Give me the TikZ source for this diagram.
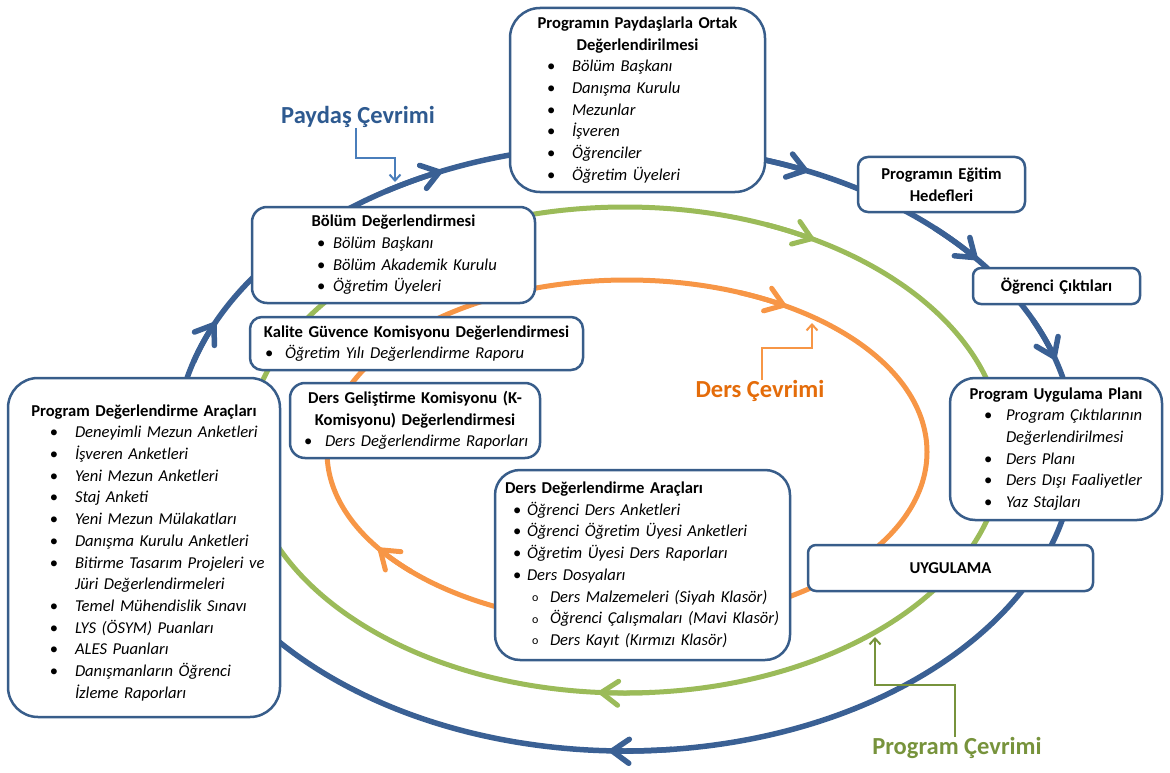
\documentclass[tikz,border=0pt]{standalone}
\usepackage{fontspec}
\setmainfont{Carlito}
\usetikzlibrary{arrows.meta}
\definecolor{bl}{HTML}{385D8A}
\definecolor{arcb}{HTML}{3A6094}
\definecolor{grn}{HTML}{9BBB59}
\definecolor{org}{HTML}{F79646}
\definecolor{tblue}{HTML}{2E5A90}
\definecolor{cblue}{HTML}{4A7EBB}
\definecolor{tgreen}{HTML}{77933C}
\definecolor{torg}{HTML}{E46C0A}
\newcommand\bitem[3]{\makebox[\hsize][l]{\hspace*{#1pt}\makebox[#2pt][l]{\textbullet}\textit{#3}}}
\newcommand\bcont[2]{\makebox[\hsize][l]{\hspace*{#1pt}\textit{#2}}}
\newcommand\ltitle[2]{\makebox[\hsize][l]{\hspace*{#1pt}\textbf{#2}}}
\newcommand\oitem[3]{\makebox[\hsize][l]{\hspace*{#1pt}\makebox[#2pt][l]{\raisebox{0.5pt}{\fontsize{12}{12}\selectfont o}}\textit{#3}}}
\begin{document}
\begin{tikzpicture}[x=1pt,y=-1pt,
  rbox/.style={draw=bl, line width=2.5pt, fill=white, rounded corners=#1,
    inner sep=0pt, align=center, font=\fontsize{16.6}{21.7}\selectfont},
  rbox/.default=10pt,
  tipb/.style={-{Straight Barb[length=17pt,width=24pt,round]}},
  conn/.style={line width=2pt, -{Straight Barb[length=6pt,width=11pt]}},
  cyc/.style={font=\fontsize{24.5}{28}\selectfont\bfseries, inner sep=0pt}
]
\useasboundingbox (0,0) rectangle (1170,773);
% cycles
\draw[arcb, line width=5.5pt] (625,448) ellipse[x radius=450, y radius=303];
\draw[grn, line width=5pt] (625,450) ellipse[x radius=378, y radius=243];
\draw[org, line width=5pt] (627,452) ellipse[x radius=300, y radius=172];
% arrowheads on cycles
\foreach \t in {204.5,246,294,321.5,343,92}
  \draw[arcb, line width=5.5pt, tipb] (625,448) ++(\t-8:450 and 303) arc[start angle=\t-8, end angle=\t, x radius=450, y radius=303];
\foreach \t in {300,94}
  \draw[grn, line width=5pt, tipb] (625,450) ++(\t-8:378 and 243) arc[start angle=\t-8, end angle=\t, x radius=378, y radius=243];
\foreach \t in {302,146}
  \draw[org, line width=5pt, tipb] (627,452) ++(\t-10:300 and 172) arc[start angle=\t-10, end angle=\t, x radius=300, y radius=172];
% boxes
\node[rbox=30pt, minimum width=255, minimum height=184, text width=255] (top) at (637.5,100)
 {\textbf{Programın Paydaşlarla Ortak}\\\textbf{Değerlendirilmesi}\\
  \bitem{37}{25}{Bölüm Başkanı}\\\bitem{37}{25}{Danışma Kurulu}\\\bitem{37}{25}{Mezunlar}\\
  \bitem{37}{25}{İşveren}\\\bitem{37}{25}{Öğrenciler}\\\bitem{37}{25}{Öğretim Üyeleri}};
\node[rbox=10pt, minimum width=167, minimum height=55, text width=167] (hedef) at (941.5,184.5)
 {\textbf{Programın Eğitim}\\\textbf{Hedefleri}};
\node[rbox=8pt, minimum width=167, minimum height=36, text width=167] (cikti) at (1056.5,286)
 {\textbf{Öğrenci Çıktıları}};
\node[rbox=25pt, minimum width=212, minimum height=142, text width=212] (plan) at (1056,449)
 {\textbf{Program Uygulama Planı}\\
  \bitem{34}{22}{Program Çıktılarının}\\\bcont{56}{Değerlendirilmesi}\\
  \bitem{34}{22}{Ders Planı}\\\bitem{34}{22}{Ders Dışı Faaliyetler}\\\bitem{34}{22}{Yaz Stajları}};
\node[rbox=8pt, minimum width=285, minimum height=46, text width=285] (uyg) at (950.5,568)
 {\textbf{UYGULAMA}};
\node[rbox=25pt, minimum width=295, minimum height=190, text width=295] (dda) at (642.5,565)
 {\ltitle{10}{Ders Değerlendirme Araçları}\\
  \bitem{18}{14}{Öğrenci Ders Anketleri}\\\bitem{18}{14}{Öğrenci Öğretim Üyesi Anketleri}\\
  \bitem{18}{14}{Öğretim Üyesi Ders Raporları}\\\bitem{18}{14}{Ders Dosyaları}\\
  \oitem{37}{18}{Ders Malzemeleri (Siyah Klasör)}\\\oitem{37}{18}{Öğrenci Çalışmaları (Mavi Klasör)}\\
  \oitem{37}{18}{Ders Kayıt (Kırmızı Klasör)}};
\node[rbox=15pt, minimum width=250, minimum height=75, text width=250] (dgk) at (415,420.5)
 {\textbf{Ders Geliştirme Komisyonu (K-}\\\textbf{Komisyonu) Değerlendirmesi}\\
  \bitem{14}{21}{Ders Değerlendirme Raporları}};
\node[rbox=12pt, minimum width=333, minimum height=53, text width=333] (kalite) at (416.5,343.5)
 {\textbf{Kalite Güvence Komisyonu Değerlendirmesi}\\
  \bitem{15}{20}{Öğretim Yılı Değerlendirme Raporu}};
\node[rbox=15pt, minimum width=283, minimum height=96, text width=283] (bolum) at (393.5,255)
 {\textbf{Bölüm Değerlendirmesi}\\
  \bitem{65}{16}{Bölüm Başkanı}\\\bitem{65}{16}{Bölüm Akademik Kurulu}\\\bitem{65}{16}{Öğretim Üyeleri}};
\node[rbox=30pt, minimum width=272, minimum height=339, text width=272] (pda) at (144,547.5)
 {\rule{0pt}{22pt}\textbf{Program Değerlendirme Araçları}\\
  \bitem{42}{25}{Deneyimli Mezun Anketleri}\\\bitem{42}{25}{İşveren Anketleri}\\
  \bitem{42}{25}{Yeni Mezun Anketleri}\\\bitem{42}{25}{Staj Anketi}\\
  \bitem{42}{25}{Yeni Mezun Mülakatları}\\\bitem{42}{25}{Danışma Kurulu Anketleri}\\
  \bitem{42}{25}{Bitirme Tasarım Projeleri ve}\\\bcont{67}{Jüri Değerlendirmeleri}\\
  \bitem{42}{25}{Temel Mühendislik Sınavı}\\\bitem{42}{25}{LYS (ÖSYM) Puanları}\\
  \bitem{42}{25}{ALES Puanları}\\\bitem{42}{25}{Danışmanların Öğrenci}\\\bcont{67}{İzleme Raporları}};
% cycle labels
\node[cyc, text=tblue] (paydasl) at (358,117) {Paydaş Çevrimi};
\node[cyc, text=torg] (dersl) at (760,391) {Ders Çevrimi};
\node[cyc, text=tgreen] (progl) at (957,748) {Program Çevrimi};
\coordinate (pdtip) at (395,182);
\coordinate (dstip) at (812,323);
\coordinate (pgtip) at (875,637);
\draw[conn, cblue] (paydasl.south -| 356,0) |- (395,158) -- (pdtip);
\draw[conn, org] (dersl.north -| 762,0) |- (812,348) -- (dstip);
\draw[conn, tgreen] (progl.north -| 955,0) |- (875,685) -- (pgtip);
\end{tikzpicture}
\end{document}
